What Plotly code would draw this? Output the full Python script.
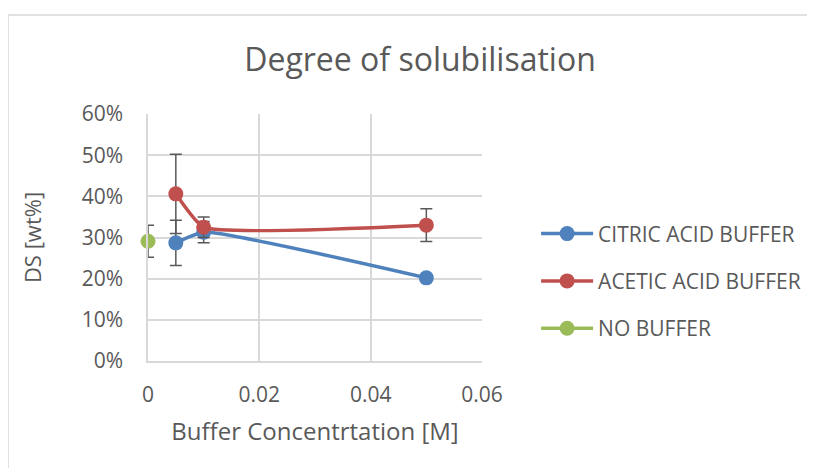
import plotly.graph_objects as go

# data (DS in wt%)
conc_citric = [0.005, 0.01, 0.05]
ds_citric = [28.7, 31.3, 20.2]
err_citric = [5.5, 2.6, 0]

conc_acetic = [0.005, 0.01, 0.05]
ds_acetic = [40.6, 32.5, 33.0]
err_acetic = [9.6, 2.5, 4.0]

conc_none = [0]
ds_none = [29.1]
err_none = [3.9]

x_ticks = [0, 0.02, 0.04, 0.06]
x_labels = ["0", "0.02", "0.04", "0.06"]
y_ticks = [0, 10, 20, 30, 40, 50, 60]
y_labels = ["0%", "10%", "20%", "30%", "40%", "50%", "60%"]

blue = "#4F81BD"
red = "#C0504D"
green = "#9BBB59"
txt = "#595959"
grid = "#D9D9D9"
font = "Open Sans"

fig = go.Figure()

def add(name, x, y, err, col, group):
    fig.add_trace(go.Scatter(
        x=x, y=y, name=name, mode="lines+markers",
        line=dict(color=col, width=3.5, shape="spline", smoothing=0.45),
        marker=dict(color=col, size=15),
        error_y=dict(type="data", array=err, visible=True, color="#595959", thickness=1.5, width=6),
        legendgroup=group, cliponaxis=False,
    ))

add("CITRIC ACID BUFFER", conc_citric, ds_citric, err_citric, blue, "a")
add("ACETIC ACID BUFFER", conc_acetic, ds_acetic, err_acetic, red, "b")
add("NO BUFFER", conc_none, ds_none, err_none, green, "c")

# the page has an 8px body margin, so the figure is 807x460 placed at (8, 8)
fig.update_layout(
    width=807, height=460,
    margin=dict(l=140, r=333, t=106, b=107, autoexpand=False),
    paper_bgcolor="white", plot_bgcolor="white",
    font=dict(family=font, size=21, color=txt),
    title=dict(text="Degree of solubilisation", x=412 / 807, xanchor="center",
               y=1 - 52 / 460, yanchor="middle", yref="container",
               font=dict(size=32, color=txt, family=font)),
    legend=dict(x=1.162, xanchor="left", y=0.324, yanchor="middle",
                tracegroupgap=17, itemwidth=52, font=dict(size=21, color=txt),
                bgcolor="rgba(0,0,0,0)"),
    showlegend=True,
)

fig.update_xaxes(
    range=[0, 0.06], tickvals=x_ticks, ticktext=x_labels,
    showgrid=True, gridcolor=grid, gridwidth=1.5,
    showline=True, linecolor=grid, linewidth=1.5, zeroline=False,
    ticks="outside", ticklen=14, tickcolor="rgba(0,0,0,0)",
    title=dict(text="Buffer Concentrtation [M]", standoff=16, font=dict(size=24, color=txt)),
)
fig.update_yaxes(
    range=[0, 60], tickvals=y_ticks, ticktext=y_labels,
    showgrid=True, gridcolor=grid, gridwidth=1.5,
    showline=True, linecolor=grid, linewidth=1.5, zeroline=False,
    ticks="outside", ticklen=19, tickcolor="rgba(0,0,0,0)",
    title=dict(text="DS [wt%]", standoff=34, font=dict(size=22, color=txt)),
)

# chart frame (top and left edges visible in the reference)
x0 = (0 - 140) / 334
y0 = (353 - 7) / 247
fig.add_shape(type="line", xref="paper", yref="paper", x0=x0, y0=y0, x1=3, y1=y0,
              line=dict(color=grid, width=1.5))
fig.add_shape(type="line", xref="paper", yref="paper", x0=x0, y0=y0, x1=x0, y1=-1,
              line=dict(color=grid, width=1.5))

fig.write_html("out.html")
